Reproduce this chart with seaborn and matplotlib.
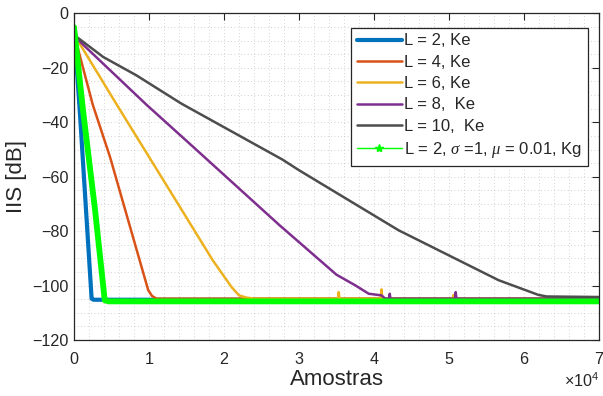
import matplotlib
matplotlib.use("Agg")
import matplotlib.pyplot as plt
from matplotlib.lines import Line2D
from matplotlib.ticker import MultipleLocator
import seaborn as sns
import pandas as pd

# Learning curves: residual ISI (dB) versus number of samples
x_l2 = [0, 800, 2350, 2600, 70000]
y_l2 = [-5, -37, -104.8, -105.2, -105.2]

x_l4 = [0, 250, 2500, 4800, 9900, 10400, 11000, 70000]
y_l4 = [-5, -10, -33.5, -52.7, -101.7, -103.8, -104.8, -104.8]

x_l6 = [0, 300, 5700, 14100, 18500, 21000, 22000, 23000, 24000,
        35200, 35300, 35400, 40900, 41000, 41100, 50500, 50600, 50700, 70000]
y_l6 = [-5, -9, -33.5, -71, -90.7, -100.5, -103.6, -104.4, -104.8,
        -104.8, -102.4, -104.8, -104.8, -101.4, -104.8, -104.8, -103.5, -104.8, -104.8]

x_l8 = [0, 350, 9650, 15400, 27400, 35000, 37500, 39300, 41000, 41500,
        42000, 42100, 42200, 50800, 50900, 51000, 70000]
y_l8 = [-5, -9.2, -33.5, -47.8, -77.8, -96.0, -99.9, -103.0, -103.6, -104.8,
        -104.8, -103.0, -104.8, -104.8, -102.4, -104.8, -104.8]

x_l10 = [0, 350, 3900, 8300, 14300, 27800, 30000, 43300, 56600, 61900, 63000, 70000]
y_l10 = [-5, -8.6, -16, -22.7, -33.1, -53.7, -57.6, -79.7, -98.0, -103.4, -104.0, -104.2]

x_kg = [0, 1200, 2800, 4100, 4600, 70000]
y_kg = [-5, -35.5, -72, -105.4, -105.8, -105.8]

labels = ["L = 2, Ke", "L = 4, Ke", "L = 6, Ke", "L = 8,  Ke", "L = 10,  Ke",
          r"L = 2, $\sigma$ =1, $\mu$ = 0.01, Kg"]
colors = ["#0072BD", "#D95319", "#EDB120", "#7E2F8E", "#4D4D4D", "#00FF00"]
widths = [3.0, 1.8, 1.8, 1.8, 1.8, 4.2]

series = [(x_l2, y_l2), (x_l4, y_l4), (x_l6, y_l6), (x_l8, y_l8),
          (x_l10, y_l10), (x_kg, y_kg)]

sns.set_theme(style="white")
plt.rcParams["font.family"] = ["Liberation Sans", "DejaVu Sans"]
plt.rcParams["mathtext.fontset"] = "custom"
plt.rcParams["mathtext.rm"] = "Liberation Sans"
plt.rcParams["mathtext.it"] = "Liberation Serif:italic"

fig = plt.figure(figsize=(6.03, 3.96), dpi=100)
ax = fig.add_axes([0.1227, 0.1414, 0.8706, 0.8246])

handles = []
for (xs, ys), lab, c, w in zip(series, labels, colors, widths):
    df = pd.DataFrame({"Amostras": xs, "IIS": ys})
    sns.lineplot(data=df, x="Amostras", y="IIS", ax=ax, color=c, linewidth=w,
                 sort=False, estimator=None, legend=False)
    if lab.endswith("Kg"):
        handles.append(Line2D([], [], color=c, linewidth=1.0, marker="*",
                              markersize=6))
    else:
        handles.append(Line2D([], [], color=c, linewidth=w))

ax.set_xlim(0, 70000)
ax.set_ylim(-120, 0)
ax.xaxis.set_major_locator(MultipleLocator(10000))
ax.xaxis.set_minor_locator(MultipleLocator(2000))
ax.yaxis.set_major_locator(MultipleLocator(20))
ax.yaxis.set_minor_locator(MultipleLocator(5))
ax.ticklabel_format(axis="x", style="sci", scilimits=(4, 4), useMathText=True)

dark = "#262626"
ax.grid(True, which="both", linestyle=(0, (1, 3)), color="#c4c4c4", linewidth=0.6)
ax.tick_params(which="major", direction="in", length=5, width=0.8, colors=dark,
               top=True, right=True, labelsize=11.6)
ax.tick_params(which="minor", length=0, top=True, right=True)
ax.tick_params(axis="x", pad=8)
ax.tick_params(axis="y", pad=4)
for s in ax.spines.values():
    s.set_color(dark)
    s.set_linewidth(0.9)
ax.xaxis.get_offset_text().set_fontsize(11.6)
ax.xaxis.get_offset_text().set_color(dark)

ax.set_xlabel("Amostras", fontsize=16, color=dark, labelpad=1.5)
ax.set_ylabel("IIS [dB]", fontsize=16, color=dark, labelpad=4)

leg = ax.legend(handles, labels, loc="upper left", bbox_to_anchor=(0.5275, 0.957),
                borderaxespad=0, fontsize=12, frameon=True, fancybox=False,
                framealpha=1, edgecolor=dark, handlelength=2.7,
                handletextpad=0.15, labelspacing=0.38, borderpad=0.35)
leg.get_frame().set_linewidth(0.9)

fig.savefig("out.png", dpi=100)
